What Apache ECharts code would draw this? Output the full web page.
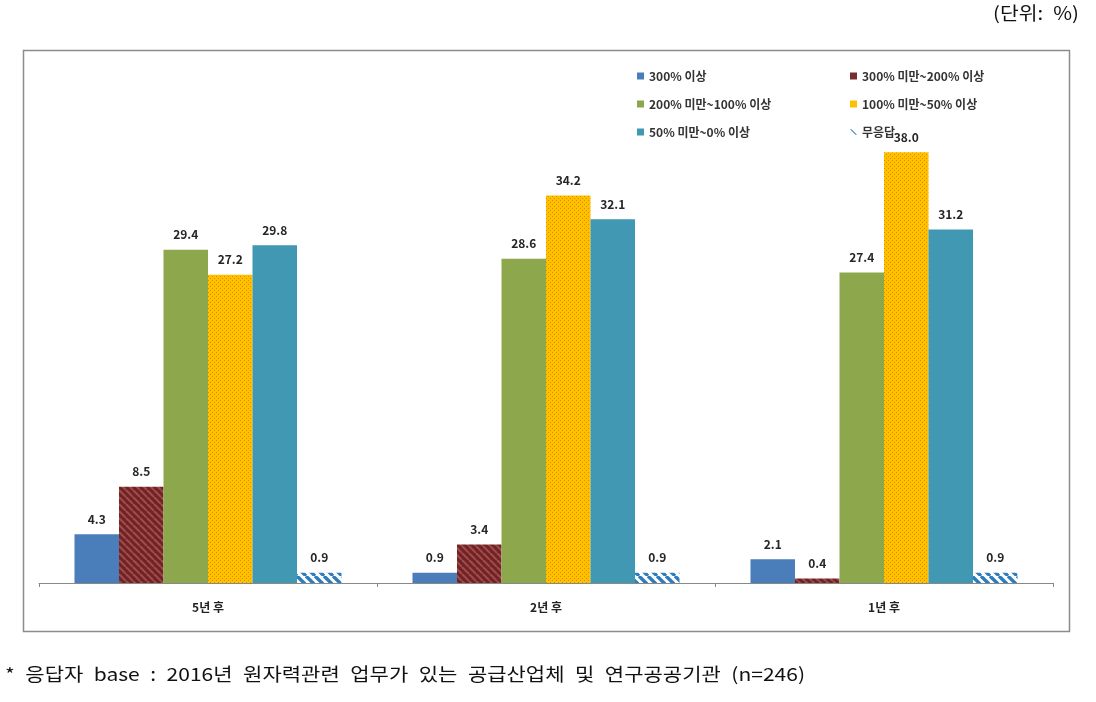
<!DOCTYPE html>
<html><head><meta charset="utf-8">
<script src="https://cdn.jsdelivr.net/npm/echarts@6/dist/echarts.min.js"></script>
<style>html,body{margin:0;padding:0;background:#fff}#c{width:1096px;height:702px}</style>
</head><body><div id="c"></div>
<script>
const categories = ['5년 후', '2년 후', '1년 후'];
const seriesNames = ['300% 이상', '300% 미만~200% 이상', '200% 미만~100% 이상', '100% 미만~50% 이상', '50% 미만~0% 이상', '무응답'];
const s300up = [4.3, 0.9, 2.1];
const s300to200 = [8.5, 3.4, 0.4];
const s200to100 = [29.4, 28.6, 27.4];
const s100to50 = [27.2, 34.2, 38.0];
const s50to0 = [29.8, 32.1, 31.2];
const sNoAnswer = [0.9, 0.9, 0.9];
const unitText = '(단위:\u2002%)';
const noteText = '*\u2002응답자\u2002base\u2002:\u20022016년\u2002원자력관련\u2002업무가\u2002있는\u2002공급산업체\u2002및\u2002연구공공기관\u2002(n=246)';

function stripe(bg, fg, size, lw) {
  const c = document.createElement('canvas');
  c.width = size; c.height = size;
  const g = c.getContext('2d');
  g.fillStyle = bg; g.fillRect(0, 0, size, size);
  g.strokeStyle = fg; g.lineWidth = lw;
  for (let k = -1; k <= 1; k++) {
    g.beginPath();
    g.moveTo(k * size, 0);
    g.lineTo(k * size + size, size);
    g.stroke();
  }
  return c;
}
function dots(bg, fg) {
  const c = document.createElement('canvas');
  c.width = 4; c.height = 4;
  const g = c.getContext('2d');
  g.fillStyle = bg; g.fillRect(0, 0, 4, 4);
  g.fillStyle = fg;
  g.fillRect(0, 0, 1, 1);
  g.fillRect(2, 2, 1, 1);
  return c;
}
function measure(text, font) {
  const c = document.createElement('canvas').getContext('2d');
  c.font = font;
  return c.measureText(text).width;
}
const colors = [
  '#4A7EBB',
  {image: stripe('#6E2326', '#A24A48', 7, 2.2), repeat: 'repeat'},
  '#8CA74C',
  {image: dots('#FFC000', '#E08A00'), repeat: 'repeat'},
  '#4198B2',
  {image: stripe('#FFFFFF', '#2E7CBE', 9, 3.4), repeat: 'repeat'}
];
const legendColors = ['#4A7EBB', '#772C2E', '#8CA74C', '#FFC000', '#4198B2', '#2E7CBE'];
const dataArr = [s300up, s300to200, s200to100, s100to50, s50to0, sNoAnswer];

const noteFont = '18px "Noto Sans CJK KR"';
const noteScale = 800 / measure(noteText, noteFont);
const unitScale = 86 / measure(unitText, noteFont);

const chart = echarts.init(document.getElementById('c'));
const legendPos = [[632, 65], [845, 65], [632, 93], [845, 93], [632, 121], [845, 121]];
const legends = seriesNames.map((n, i) => ({
  left: legendPos[i][0], top: legendPos[i][1],
  data: [{name: n, icon: i === 5 ? 'path://M0,0 L2,0 L10,8 L8,8 Z' : 'rect', itemStyle: {color: legendColors[i]}}],
  itemWidth: 7, itemHeight: 7, itemGap: 4,
  textStyle: {fontSize: 12, fontWeight: 'bold', color: '#333', fontFamily: 'Noto Sans CJK KR'},
  selectedMode: false
}));
chart.setOption({
  animation: false,
  legend: legends,
  grid: {left: 39, right: 43, top: 73, bottom: 119},
  xAxis: {
    type: 'category', data: categories,
    axisLine: {lineStyle: {color: '#888', width: 1}},
    axisTick: {show: true, length: 4, lineStyle: {color: '#888'}},
    axisLabel: {margin: 18, fontSize: 12, fontWeight: 'bold', color: '#222', fontFamily: 'Noto Sans CJK KR'}
  },
  yAxis: {type: 'value', min: 0, max: 45, show: false, splitLine: {show: false}},
  graphic: [
    {type: 'rect', shape: {x: 23.5, y: 50.5, width: 1046, height: 581}, style: {fill: 'none', stroke: '#8c8c8c', lineWidth: 1.5}, silent: true},
    {type: 'text', x: 993, y: 4, scaleX: unitScale, style: {text: unitText, font: noteFont, fill: '#111'}},
    {type: 'text', x: 5, y: 665, scaleX: noteScale, style: {text: noteText, font: noteFont, fill: '#111'}}
  ],
  series: seriesNames.map((n, i) => ({
    name: n, type: 'bar', data: dataArr[i],
    barGap: '0%', barCategoryGap: '21%',
    itemStyle: {color: colors[i]},
    label: {show: true, position: 'top', distance: 9, formatter: p => p.value.toFixed(1), fontSize: 12, fontWeight: 'bold', color: '#262626', fontFamily: 'Noto Sans CJK KR'}
  }))
});
</script></body></html>
